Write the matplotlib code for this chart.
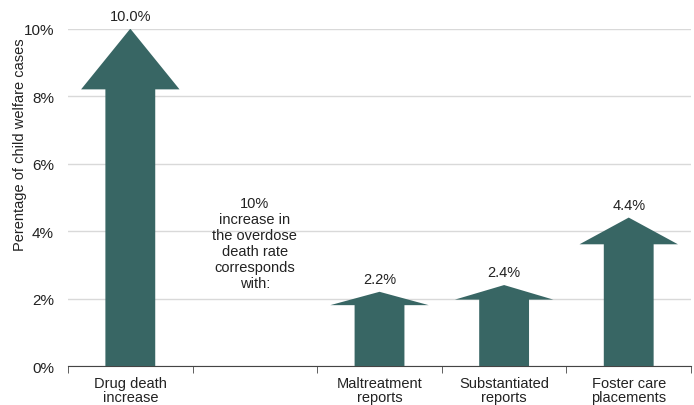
import matplotlib.pyplot as plt
from matplotlib.ticker import FixedLocator, FuncFormatter
import numpy as np

plt.rcParams['font.family'] = ['Liberation Sans', 'DejaVu Sans']

categories = ['Drug death\nincrease', '', 'Maltreatment\nreports',
              'Substantiated\nreports', 'Foster care\nplacements']
values = [10.0, None, 2.2, 2.4, 4.4]
note = '10%\nincrease in\nthe overdose\ndeath rate\ncorresponds\nwith:'

teal = '#386664'
stem_w = 0.40   # fraction of a category slot
head_w = 0.79
head_frac = 0.18  # arrow head height relative to value

fig = plt.figure(figsize=(6.94, 4.06), dpi=100)
ax = fig.add_axes([0.098, 0.096, 0.8977, 0.831])

x = np.arange(len(categories))
for xi, v in zip(x, values):
    if v is None:
        continue
    hb = v * (1 - head_frac)
    px = [xi - stem_w / 2, xi - stem_w / 2, xi - head_w / 2, xi,
          xi + head_w / 2, xi + stem_w / 2, xi + stem_w / 2]
    py = [0, hb, hb, v, hb, hb, 0]
    ax.fill(px, py, color=teal, lw=0, zorder=3)
    ax.annotate(f'{v:.1f}%', (xi, v), xytext=(0, 4), textcoords='offset points',
                ha='center', va='bottom', fontsize=10.5, color='#222222')

ax.text(1, 3.64, note, ha='center', va='center', fontsize=10.5,
        color='#222222', linespacing=1.19, zorder=4)

ax.set_xlim(-0.5, len(categories) - 0.5)
ax.set_ylim(0, 10)
ax.set_yticks(np.arange(0, 11, 2))
ax.yaxis.set_major_formatter(FuncFormatter(lambda v, p: f'{v:.0f}%'))
ax.grid(axis='y', color='#d9d9d9', lw=1, zorder=0)
ax.set_axisbelow(True)

ax.set_xticks(x)
ax.set_xticklabels(categories, fontsize=10.5, color='#222222', linespacing=1.05)
ax.xaxis.set_minor_locator(FixedLocator(np.arange(-0.5, len(categories), 1)))
ax.tick_params(axis='x', which='major', length=0, pad=7)
ax.tick_params(axis='x', which='minor', length=5, color='#444444', direction='out')
ax.tick_params(axis='y', length=0, labelsize=11, labelcolor='#222222', pad=10)

for s in ['top', 'right', 'left']:
    ax.spines[s].set_visible(False)
ax.spines['bottom'].set_color('#444444')

ax.set_ylabel('Perentage of child welfare cases', fontsize=10.5, color='#222222')
ax.yaxis.set_label_coords(-0.066, 0.66)

plt.savefig('out.png', dpi=100)
